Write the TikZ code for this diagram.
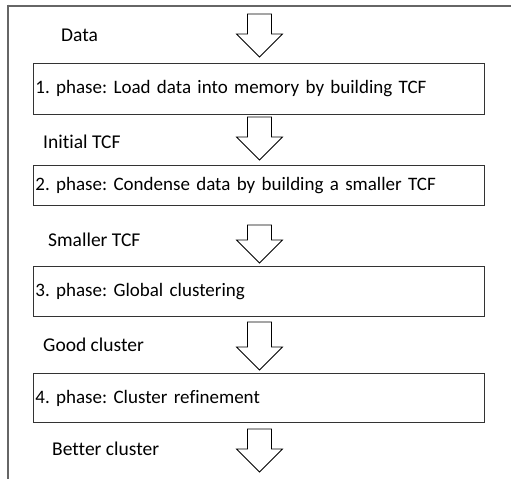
\documentclass[tikz,border=0pt]{standalone}
\usepackage{fontspec}
\setmainfont{Carlito}[Ligatures={NoCommon,NoContextual}]
\frenchspacing
\begin{document}
\begin{tikzpicture}[x=1pt,y=-1pt,
  frameline/.style={draw=black!60, line width=2pt},
  phasebox/.style={draw=black!80, line width=0.9pt, minimum width=451pt,
    inner sep=0pt, anchor=north west, text width=449pt, align=left,
    font=\fontsize{19}{23}\selectfont},
  flowlabel/.style={anchor=west, inner sep=0pt, font=\fontsize{19.5}{23}\selectfont},
  arrowbody/.style={draw=black, fill=white, line width=0.8pt, line join=miter},
  pics/downarrow/.style={code={
    \draw[arrowbody] (-12,0) -- (12,0) -- (12,#1) -- (23,#1) -- (0,#1+23)
      -- (-23,#1) -- (-12,#1) -- cycle;}}]
\useasboundingbox (0,0) rectangle (511,479);
\fill[white] (0,0) rectangle (511,479);

% outer frame: top and left edges only
\draw[frameline] (7,5.5) -- (511,5.5);
\draw[frameline] (8,4.5) -- (8,479);

% phase boxes
\node[phasebox, minimum height=51pt] (p1) at (33,63) {\hspace*{1pt}1. phase: Load data into memory by building TCF};
\node[phasebox, minimum height=40pt] (p2) at (33,165) {\hspace*{1pt}2. phase: Condense data by building a smaller TCF};
\node[phasebox, minimum height=50pt] (p3) at (33,266) {\hspace*{1pt}3. phase: Global clustering};
\node[phasebox, minimum height=49pt] (p4) at (33,373) {\hspace*{1pt}4. phase: Cluster refinement};

% block arrows between the phases
\pic at (259.5,14) {downarrow=20};
\pic at (259.5,117) {downarrow=20};
\pic at (259.5,225) {downarrow=15};
\pic at (259.5,322) {downarrow=25};
\pic at (259.5,429) {downarrow=20};

% labels of the data passed on
\node[flowlabel] (l1) at (61,35) {Data};
\node[flowlabel] (l2) at (43,142) {Initial TCF};
\node[flowlabel] (l3) at (48,240) {Smaller TCF};
\node[flowlabel] (l4) at (43,345) {Good cluster};
\node[flowlabel] (l5) at (52,449) {Better cluster};
\end{tikzpicture}
\end{document}
